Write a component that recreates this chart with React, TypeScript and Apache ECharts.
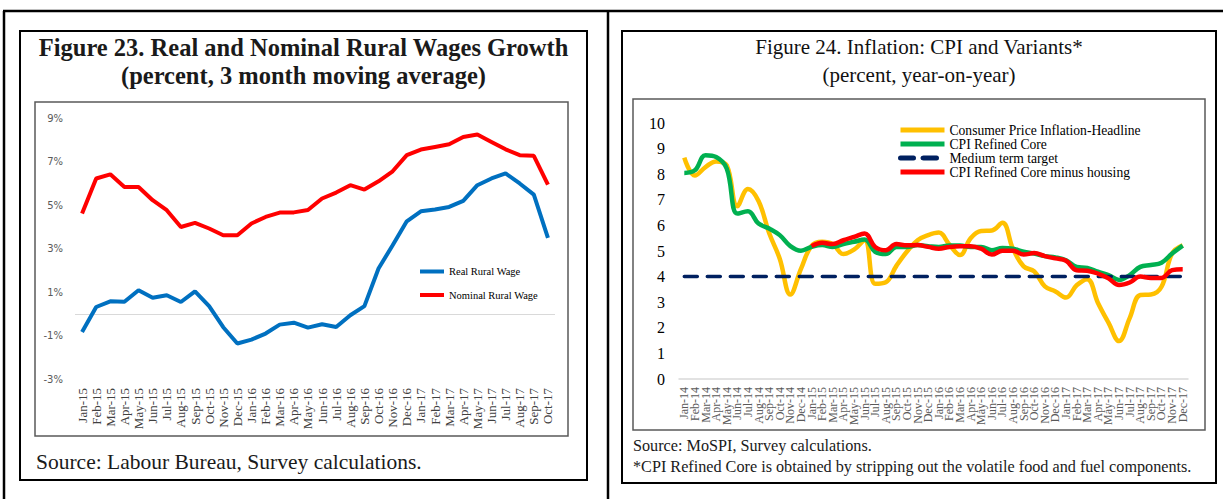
import React, { useEffect, useRef } from 'react';
import * as echarts from 'echarts';

const SERIF = "'Liberation Serif', 'Times New Roman', serif";

// ---------- Figure 23 data ----------
const wageMonths = [
  'Jan-15', 'Feb-15', 'Mar-15', 'Apr-15', 'May-15', 'Jun-15', 'Jul-15', 'Aug-15', 'Sep-15', 'Oct-15', 'Nov-15', 'Dec-15',
  'Jan-16', 'Feb-16', 'Mar-16', 'Apr-16', 'May-16', 'Jun-16', 'Jul-16', 'Aug-16', 'Sep-16', 'Oct-16', 'Nov-16', 'Dec-16',
  'Jan-17', 'Feb-17', 'Mar-17', 'Apr-17', 'May-17', 'Jun-17', 'Jul-17', 'Aug-17', 'Sep-17', 'Oct-17',
];
const realRuralWage = [
  -0.84, 0.31, 0.57, 0.55, 1.08, 0.74, 0.85, 0.54, 1.03, 0.35, -0.62, -1.37,
  -1.19, -0.91, -0.5, -0.41, -0.64, -0.48, -0.61, -0.07, 0.35, 2.08, 3.15, 4.25,
  4.71, 4.79, 4.91, 5.19, 5.91, 6.22, 6.45, 5.99, 5.48, 3.49,
];
const nominalRuralWage = [
  4.61, 6.22, 6.41, 5.83, 5.83, 5.22, 4.76, 3.99, 4.18, 3.92, 3.61, 3.61,
  4.15, 4.45, 4.65, 4.66, 4.77, 5.3, 5.57, 5.91, 5.71, 6.09, 6.55, 7.29,
  7.55, 7.67, 7.79, 8.13, 8.24, 7.9, 7.56, 7.29, 7.26, 5.94,
];
const wageTickMin = -3;
const wageTickMax = 9;
const wageTickStep = 2;

// ---------- Figure 24 data ----------
const cpiMonths = [
  'Jan-14', 'Feb-14', 'Mar-14', 'Apr-14', 'May-14', 'Jun-14', 'Jul-14', 'Aug-14', 'Sep-14', 'Oct-14', 'Nov-14', 'Dec-14',
  'Jan-15', 'Feb-15', 'Mar-15', 'Apr-15', 'May-15', 'Jun-15', 'Jul-15', 'Aug-15', 'Sep-15', 'Oct-15', 'Nov-15', 'Dec-15',
  'Jan-16', 'Feb-16', 'Mar-16', 'Apr-16', 'May-16', 'Jun-16', 'Jul-16', 'Aug-16', 'Sep-16', 'Oct-16', 'Nov-16', 'Dec-16',
  'Jan-17', 'Feb-17', 'Mar-17', 'Apr-17', 'May-17', 'Jun-17', 'Jul-17', 'Aug-17', 'Sep-17', 'Oct-17', 'Nov-17', 'Dec-17',
];
const cpiHeadline = [
  8.65, 7.95, 8.28, 8.5, 8.35, 6.75, 7.42, 6.95, 5.7, 4.7, 3.3, 4.3,
  5.2, 5.36, 5.27, 4.88, 5.05, 5.42, 3.72, 3.78, 4.42, 4.98, 5.42, 5.62,
  5.72, 5.25, 4.84, 5.5, 5.78, 5.8, 6.1, 5.08, 4.4, 4.2, 3.62, 3.42,
  3.18, 3.66, 3.9, 2.98, 2.2, 1.48, 2.38, 3.28, 3.3, 3.6, 4.9, 5.22,
];
const cpiRefinedCore = [
  8.05, 8.15, 8.74, 8.67, 8.22, 6.46, 6.55, 6.07, 5.88, 5.62, 5.19, 5.01,
  5.16, 5.23, 5.16, 5.27, 5.36, 5.45, 4.97, 4.88, 5.16, 5.16, 5.23, 5.19,
  5.16, 5.21, 5.21, 5.16, 5.16, 5.03, 5.12, 5.09, 4.97, 4.9, 4.8, 4.75,
  4.64, 4.38, 4.34, 4.19, 4.06, 3.87, 4.06, 4.38, 4.45, 4.54, 4.9, 5.21,
];
const mediumTermTarget = [
  4, 4, 4, 4, 4, 4, 4, 4, 4, 4, 4, 4,
  4, 4, 4, 4, 4, 4, 4, 4, 4, 4, 4, 4,
  4, 4, 4, 4, 4, 4, 4, 4, 4, 4, 4, 4,
  4, 4, 4, 4, 4, 4, 4, 4, 4, 4, 4, 4,
];
const cpiCoreExHousing = [
  null, null, null, null, null, null, null, null, null, null, null, null,
  5.19, 5.32, 5.27, 5.42, 5.55, 5.68, 5.16, 5.03, 5.27, 5.22, 5.23, 5.16,
  5.09, 5.16, 5.19, 5.19, 5.09, 4.86, 5.01, 5.01, 4.86, 4.92, 4.8, 4.71,
  4.62, 4.25, 4.23, 4.12, 3.93, 3.67, 3.77, 4.0, 3.95, 3.95, 4.25, 4.29,
];
const cpiTickMin = 0;
const cpiTickMax = 10;
const cpiTickStep = 1;

const NAMES = {
  real: 'Real Rural Wage',
  nominal: 'Nominal Rural Wage',
  headline: 'Consumer Price Inflation-Headline',
  core: 'CPI Refined Core',
  target: 'Medium term target',
  coreEx: 'CPI Refined Core minus housing',
};

export default function App() {
  const ref = useRef<HTMLDivElement>(null);

  useEffect(() => {
    if (!ref.current) return;
    const chart = echarts.init(ref.current, undefined, { renderer: 'svg' });

    const frame = { stroke: '#000', lineWidth: 2.5 };
    const option: any = {
      animation: false,
      backgroundColor: '#fff',
      grid: [
        { left: 75, right: 668, top: 118, bottom: 120 },
        { left: 679, right: 35, top: 123, bottom: 120 },
      ],
      legend: [
        {
          data: [NAMES.real, NAMES.nominal],
          orient: 'vertical',
          left: 418,
          top: 266,
          itemWidth: 24,
          itemHeight: 4,
          itemGap: 12.5,
          padding: 0,
          lineStyle: { width: 4 },
          textStyle: { fontFamily: SERIF, fontSize: 10.5, color: '#000' },
        },
        {
          data: [NAMES.headline, NAMES.core, NAMES.target, NAMES.coreEx],
          orient: 'vertical',
          left: 898,
          top: 123,
          itemWidth: 44,
          itemHeight: 5,
          itemGap: 0,
          padding: 0,
          lineStyle: { width: 5 },
          textStyle: { fontFamily: SERIF, fontSize: 13.6, color: '#000' },
        },
      ],
      xAxis: [
        {
          gridIndex: 0,
          type: 'category',
          data: wageMonths,
          boundaryGap: true,
          axisLine: { show: false },
          axisTick: { show: false },
          axisLabel: {
            rotate: 90,
            interval: 0,
            margin: 9,
            fontFamily: SERIF,
            fontSize: 13,
            color: '#404040',
          },
        },
        {
          gridIndex: 1,
          type: 'category',
          data: cpiMonths,
          boundaryGap: true,
          axisLine: { show: true, lineStyle: { color: '#d9d9d9', width: 1.5 } },
          axisTick: { show: false },
          axisLabel: {
            rotate: 90,
            interval: 0,
            margin: 8,
            fontFamily: SERIF,
            fontSize: 12,
            color: '#595959',
          },
        },
      ],
      yAxis: [
        {
          gridIndex: 0,
          type: 'value',
          min: wageTickMin,
          max: wageTickMax,
          interval: wageTickStep,
          axisLine: { show: false },
          axisTick: { show: false },
          splitLine: { show: false },
          axisLabel: {
            formatter: '{value}%',
            margin: 12,
            fontFamily: "'DejaVu Sans', sans-serif",
            fontSize: 10,
            color: '#595959',
          },
        },
        {
          gridIndex: 1,
          type: 'value',
          min: cpiTickMin,
          max: cpiTickMax,
          interval: cpiTickStep,
          axisLine: { show: false },
          axisTick: { show: false },
          splitLine: { show: false },
          axisLabel: {
            margin: 14,
            fontFamily: SERIF,
            fontSize: 16,
            color: '#000',
          },
        },
      ],
      series: [
        {
          name: NAMES.real,
          type: 'line',
          xAxisIndex: 0,
          yAxisIndex: 0,
          data: realRuralWage,
          symbol: 'none',
          lineStyle: { color: '#0070C0', width: 4 },
          itemStyle: { color: '#0070C0' },
          z: 3,
          markLine: {
            silent: true,
            symbol: 'none',
            label: { show: false },
            lineStyle: { color: '#d9d9d9', width: 1.2, type: 'solid' },
            data: [{ yAxis: 0 }],
            z: 1,
          },
        },
        {
          name: NAMES.nominal,
          type: 'line',
          xAxisIndex: 0,
          yAxisIndex: 0,
          data: nominalRuralWage,
          symbol: 'none',
          lineStyle: { color: '#FF0000', width: 4 },
          itemStyle: { color: '#FF0000' },
          z: 3,
        },
        {
          name: NAMES.headline,
          type: 'line',
          xAxisIndex: 1,
          yAxisIndex: 1,
          data: cpiHeadline,
          symbol: 'none',
          smooth: 0.4,
          lineStyle: { color: '#FFC000', width: 4.5 },
          itemStyle: { color: '#FFC000' },
          z: 2,
        },
        {
          name: NAMES.core,
          type: 'line',
          xAxisIndex: 1,
          yAxisIndex: 1,
          data: cpiRefinedCore,
          symbol: 'none',
          smooth: 0.4,
          lineStyle: { color: '#00B050', width: 4.5 },
          itemStyle: { color: '#00B050' },
          z: 3,
        },
        {
          name: NAMES.target,
          type: 'line',
          xAxisIndex: 1,
          yAxisIndex: 1,
          data: mediumTermTarget,
          symbol: 'none',
          lineStyle: { color: '#002060', width: 3.5, type: [13, 10], cap: 'round' },
          itemStyle: { color: '#002060' },
          z: 4,
        },
        {
          name: NAMES.coreEx,
          type: 'line',
          xAxisIndex: 1,
          yAxisIndex: 1,
          data: cpiCoreExHousing,
          symbol: 'none',
          smooth: 0.4,
          lineStyle: { color: '#FF0000', width: 4.5 },
          itemStyle: { color: '#FF0000' },
          z: 5,
        },
      ],
      graphic: [
        // page frame
        { type: 'line', shape: { x1: 3, y1: 11, x2: 1223, y2: 11 }, style: frame, silent: true },
        { type: 'line', shape: { x1: 4, y1: 11, x2: 4, y2: 499 }, style: frame, silent: true },
        { type: 'line', shape: { x1: 608, y1: 11, x2: 608, y2: 499 }, style: frame, silent: true },
        // left figure box
        { type: 'rect', shape: { x: 20, y: 31, width: 567, height: 449 }, style: { fill: 'none', stroke: '#000', lineWidth: 2 }, silent: true },
        { type: 'rect', shape: { x: 35, y: 102, width: 533, height: 334 }, style: { fill: 'none', stroke: '#595959', lineWidth: 1.5 }, silent: true },
        {
          type: 'text', x: 303.5, y: 47, silent: true,
          style: { text: 'Figure 23. Real and Nominal Rural Wages Growth', fontFamily: SERIF, fontWeight: 'bold', fontSize: 24.5, fill: '#1a1a1a', align: 'center', verticalAlign: 'middle' },
        },
        {
          type: 'text', x: 303.5, y: 75, silent: true,
          style: { text: '(percent, 3 month moving average)', fontFamily: SERIF, fontWeight: 'bold', fontSize: 24.5, fill: '#1a1a1a', align: 'center', verticalAlign: 'middle' },
        },
        {
          type: 'text', x: 36, y: 462, silent: true,
          style: { text: 'Source: Labour Bureau, Survey calculations.', fontFamily: SERIF, fontSize: 21.5, fill: '#1a1a1a', align: 'left', verticalAlign: 'middle' },
        },
        // right figure box
        { type: 'rect', shape: { x: 622, y: 31, width: 594, height: 452 }, style: { fill: 'none', stroke: '#000', lineWidth: 2 }, silent: true },
        { type: 'rect', shape: { x: 633, y: 99, width: 572, height: 331 }, style: { fill: 'none', stroke: '#595959', lineWidth: 1.5 }, silent: true },
        {
          type: 'text', x: 919, y: 47, silent: true,
          style: { text: 'Figure 24. Inflation: CPI and Variants*', fontFamily: SERIF, fontSize: 21, fill: '#111', align: 'center', verticalAlign: 'middle' },
        },
        {
          type: 'text', x: 919, y: 75, silent: true,
          style: { text: '(percent, year-on-year)', fontFamily: SERIF, fontSize: 21, fill: '#111', align: 'center', verticalAlign: 'middle' },
        },
        {
          type: 'text', x: 633, y: 446, silent: true,
          style: { text: 'Source: MoSPI, Survey calculations.', fontFamily: SERIF, fontSize: 16.2, fill: '#1a1a1a', align: 'left', verticalAlign: 'middle' },
        },
        {
          type: 'text', x: 633, y: 467, silent: true,
          style: { text: '*CPI Refined Core is obtained by stripping out the volatile food and fuel components.', fontFamily: SERIF, fontSize: 16.2, fill: '#1a1a1a', align: 'left', verticalAlign: 'middle' },
        },
      ],
    };

    chart.setOption(option);
    return () => chart.dispose();
  }, []);

  return (
    <div
      ref={ref}
      style={{ position: 'absolute', left: 0, top: 0, width: 1223, height: 499, background: '#fff' }}
    />
  );
}
